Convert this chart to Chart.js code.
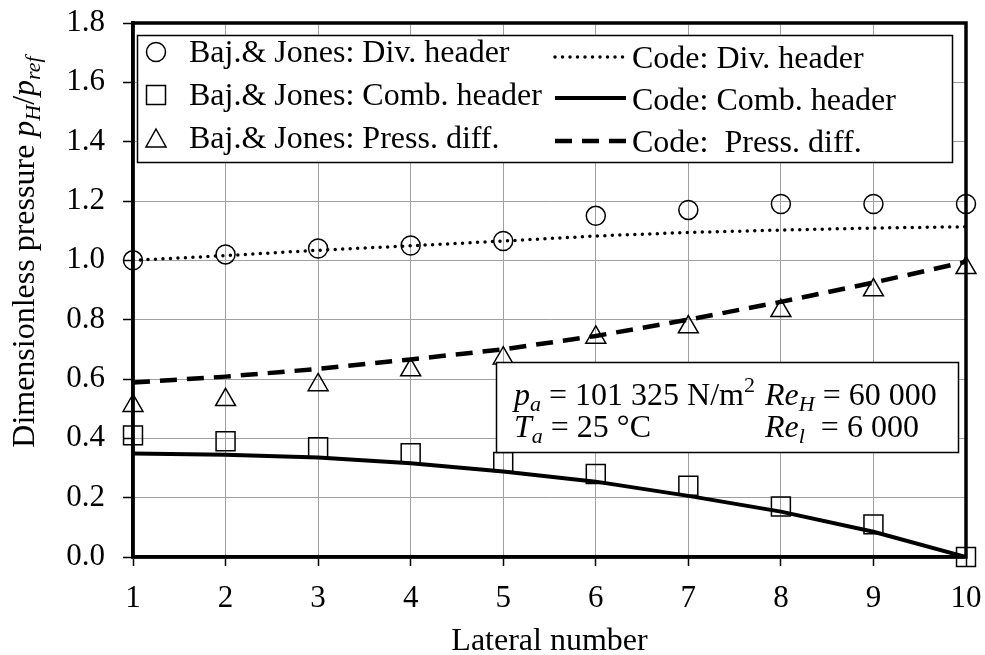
<!DOCTYPE html>
<html>
<head>
<meta charset="utf-8">
<script src="https://cdn.jsdelivr.net/npm/chart.js@4"></script>
<style>
  html, body { margin: 0; padding: 0; background: #fff; }
  #wrap { width: 985px; height: 655px; }
</style>
</head>
<body>
<div id="wrap"><canvas id="pressChart"></canvas></div>
<script>
const lateral = [1, 2, 3, 4, 5, 6, 7, 8, 9, 10]

// Bajura & Jones measurements
const bjDiv = [1.00, 1.02, 1.04, 1.05, 1.065, 1.15, 1.17, 1.19, 1.19, 1.19]
const bjComb = [0.41, 0.39, 0.37, 0.35, 0.32, 0.28, 0.24, 0.17, 0.11, 0.00]
const bjDiff = [0.51, 0.53, 0.58, 0.63, 0.67, 0.74, 0.775, 0.83, 0.90, 0.975]

// code results
const codeDiv = [1.000, 1.016, 1.034, 1.049, 1.065, 1.082, 1.094, 1.102, 1.109, 1.113]
const codeComb = [0.349, 0.345, 0.335, 0.316, 0.288, 0.254, 0.206, 0.153, 0.085, 0.0]
const codeDiff = [0.588, 0.608, 0.634, 0.666, 0.700, 0.745, 0.800, 0.860, 0.925, 0.995]

const yTicks = [0, 0.2, 0.4, 0.6, 0.8, 1.0, 1.2, 1.4, 1.6, 1.8]

const FONT = "'Liberation Serif', 'Times New Roman', serif"

const pts = (arr) => lateral.map((x, i) => ({ x: x, y: arr[i] }))

// draws a run of text pieces (normal / italic / sub / sup) starting at x
function drawRuns(ctx, x, y, runs) {
    runs.forEach(r => {
        ctx.font = (r.i ? 'italic ' : '') + (r.s || 32) + 'px ' + FONT
        ctx.fillText(r.t, x, y + (r.dy || 0))
        x += ctx.measureText(r.t).width
    })
    return x
}
function runsWidth(ctx, runs) {
    let w = 0
    runs.forEach(r => {
        ctx.font = (r.i ? 'italic ' : '') + (r.s || 32) + 'px ' + FONT
        w += ctx.measureText(r.t).width
    })
    return w
}

function marker(ctx, style, x, y) {
    ctx.save()
    ctx.lineWidth = 1.5
    ctx.strokeStyle = '#000'
    ctx.fillStyle = '#fff'
    ctx.beginPath()
    if (style === 'circle') {
        ctx.arc(x, y, 9.5, 0, Math.PI * 2)
    } else if (style === 'rect') {
        ctx.rect(x - 9.5, y - 9.5, 19, 19)
    } else {
        ctx.moveTo(x, y - 10)
        ctx.lineTo(x + 10, y + 8)
        ctx.lineTo(x - 10, y + 8)
        ctx.closePath()
    }
    ctx.fill()
    ctx.stroke()
    ctx.restore()
}

const decorations = {
    id: 'decorations',
    afterDatasetsDraw(chart) {
        const ctx = chart.ctx
        const a = chart.chartArea
        ctx.save()
        ctx.textBaseline = 'alphabetic'
        ctx.textAlign = 'left'

        // legend box
        ctx.fillStyle = '#fff'
        ctx.fillRect(137.5, 35.5, 815, 127)
        ctx.lineWidth = 1.5
        ctx.strokeStyle = '#000'
        ctx.strokeRect(137.5, 35.5, 815, 127)

        const leftRows = [
            { m: 'circle', t: 'Baj.& Jones: Div. header', my: 52, by: 62 },
            { m: 'rect', t: 'Baj.& Jones: Comb. header', my: 95, by: 105 },
            { m: 'triangle', t: 'Baj.& Jones: Press. diff.', my: 139, by: 148 }
        ]
        leftRows.forEach(r => {
            marker(ctx, r.m, 156, r.my)
            ctx.fillStyle = '#000'
            ctx.font = '32px ' + FONT
            ctx.fillText(r.t, 189, r.by)
        })

        const rightRows = [
            { t: 'Code: Div. header', ly: 57, by: 68, w: 3.5, dash: [0, 7.5], cap: 'round' },
            { t: 'Code: Comb. header', ly: 98, by: 110, w: 4, dash: [], cap: 'butt' },
            { t: 'Code:  Press. diff.', ly: 141, by: 152, w: 4.5, dash: [17, 10], cap: 'butt' }
        ]
        rightRows.forEach(r => {
            ctx.save()
            ctx.strokeStyle = '#000'
            ctx.lineWidth = r.w
            ctx.setLineDash(r.dash)
            ctx.lineCap = r.cap
            ctx.beginPath()
            ctx.moveTo(555, r.ly)
            ctx.lineTo(626, r.ly)
            ctx.stroke()
            ctx.restore()
            ctx.fillStyle = '#000'
            ctx.font = '32px ' + FONT
            ctx.fillText(r.t, 632, r.by)
        })

        // conditions box
        ctx.fillStyle = '#fff'
        ctx.fillRect(496.5, 362.5, 462, 90)
        ctx.lineWidth = 1.5
        ctx.strokeRect(496.5, 362.5, 462, 90)
        ctx.fillStyle = '#000'
        drawRuns(ctx, 514, 405, [
            { t: 'p', i: true }, { t: 'a', i: true, s: 22, dy: 6 },
            { t: ' = 101 325 N/m' }, { t: '2', s: 22, dy: -13 }
        ])
        drawRuns(ctx, 765, 405, [
            { t: 'Re', i: true }, { t: 'H', i: true, s: 22, dy: 6 },
            { t: ' = 60 000' }
        ])
        drawRuns(ctx, 514, 437, [
            { t: 'T', i: true }, { t: 'a', i: true, s: 22, dy: 6 },
            { t: ' = 25 °C' }
        ])
        drawRuns(ctx, 765, 437, [
            { t: 'Re', i: true }, { t: 'l', i: true, s: 22, dy: 6 },
            { t: '  = 6 000' }
        ])

        // heavy frame
        ctx.lineWidth = 3.5
        ctx.strokeStyle = '#000'
        ctx.strokeRect(a.left, a.top, a.right - a.left, a.bottom - a.top)
        ctx.restore()
    },
    afterDraw(chart) {
        const ctx = chart.ctx
        const runs = [
            { t: 'Dimensionless pressure ' },
            { t: 'p', i: true }, { t: 'H', i: true, s: 22, dy: 6 },
            { t: '/' },
            { t: 'p', i: true }, { t: 'ref', i: true, s: 22, dy: 6 }
        ]
        ctx.save()
        ctx.fillStyle = '#000'
        ctx.textBaseline = 'alphabetic'
        ctx.textAlign = 'left'
        const w = runsWidth(ctx, runs)
        ctx.translate(34, 252)
        ctx.rotate(-Math.PI / 2)
        drawRuns(ctx, -w / 2, 0, runs)
        ctx.restore()
    }
}

new Chart(document.getElementById('pressChart'), {
    type: 'scatter',
    data: {
        datasets: [
            { label: 'Code: Div. header', data: pts(codeDiv), showLine: true, borderColor: '#000', borderWidth: 3.5, borderDash: [0, 7.5], borderCapStyle: 'round', pointRadius: 0, order: 3 },
            { label: 'Code: Comb. header', data: pts(codeComb), showLine: true, borderColor: '#000', borderWidth: 4, pointRadius: 0, order: 3 },
            { label: 'Code: Press. diff.', data: pts(codeDiff), showLine: true, borderColor: '#000', borderWidth: 4.5, borderDash: [17, 10], pointRadius: 0, order: 3 },
            { label: 'Baj.& Jones: Div. header', data: pts(bjDiv), pointStyle: 'circle', pointRadius: 9.5, borderColor: '#000', borderWidth: 1.5, backgroundColor: 'rgba(0,0,0,0)', clip: false, order: 1 },
            { label: 'Baj.& Jones: Comb. header', data: pts(bjComb), pointStyle: 'rect', pointRadius: 13.4, borderColor: '#000', borderWidth: 1.5, backgroundColor: 'rgba(0,0,0,0)', clip: false, order: 1 },
            { label: 'Baj.& Jones: Press. diff.', data: pts(bjDiff), pointStyle: 'triangle', pointRadius: 11.5, borderColor: '#000', borderWidth: 1.5, backgroundColor: 'rgba(0,0,0,0)', clip: false, order: 1 }
        ]
    },
    options: {
        responsive: true,
        maintainAspectRatio: false,
        animation: false,
        events: [],
        layout: { padding: { left: 0, top: 23, right: 19, bottom: 0 } },
        plugins: { legend: { display: false }, tooltip: { enabled: false } },
        scales: {
            x: {
                type: 'linear',
                min: 1,
                max: 10,
                afterFit: (s) => { s.height = 98; s.paddingLeft = 0; s.paddingRight = 0 },
                ticks: { stepSize: 1, color: '#000', padding: 14, font: { family: FONT, size: 31 } },
                grid: { color: '#a0a0a0', lineWidth: 1, tickColor: '#000', tickLength: 9, tickWidth: 1.5 },
                border: { color: '#000', width: 3.5 },
                title: { display: true, text: 'Lateral number', color: '#000', padding: { top: 0, bottom: 0 }, font: { family: FONT, size: 32, lineHeight: 0.82 } }
            },
            y: {
                min: 0,
                max: 1.8,
                afterFit: (s) => { s.width = 133; s.paddingTop = 0; s.paddingBottom = 0 },
                afterBuildTicks: (s) => { s.ticks = yTicks.map(v => ({ value: v })) },
                ticks: { color: '#000', padding: 18, font: { family: FONT, size: 31 }, callback: (v) => v.toFixed(1) },
                grid: { color: '#a0a0a0', lineWidth: 1, tickColor: '#000', tickLength: 10, tickWidth: 1.5 },
                border: { color: '#000', width: 3.5 }
            }
        }
    },
    plugins: [decorations]
})
</script>
</body>
</html>
